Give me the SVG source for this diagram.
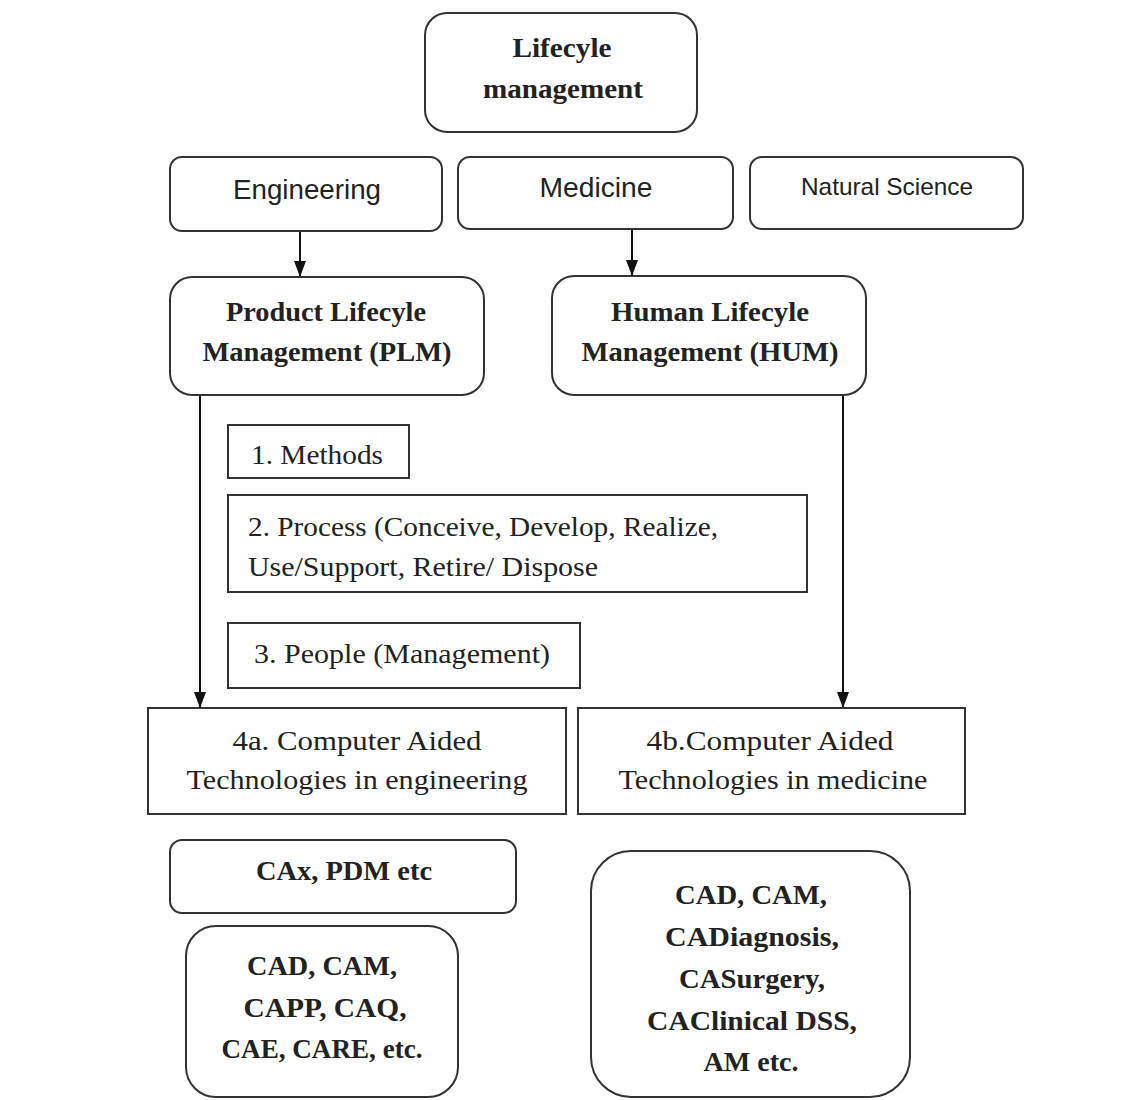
<svg xmlns="http://www.w3.org/2000/svg" width="1145" height="1100" viewBox="0 0 1145 1100">
<style>
.box{fill:#fff;stroke:#333;stroke-width:2}
.b{font-family:"Liberation Serif",serif;font-weight:bold;font-size:28px;fill:#222;text-anchor:middle}
.r{font-family:"Liberation Serif",serif;font-size:28px;fill:#222}
.s{font-family:"Liberation Sans",sans-serif;font-size:27px;fill:#222;text-anchor:middle}
.c{fill:none;stroke:#111;stroke-width:2}
</style>
<defs>
<marker id="arr" markerWidth="16" markerHeight="12" refX="16" refY="6" orient="auto" markerUnits="userSpaceOnUse" viewBox="0 0 16 12">
<path d="M0,0 L16,6 L0,12 Z" fill="#111"/>
</marker>
</defs>
<rect width="1145" height="1100" fill="#fff"/>
<g id="connectors">
<line class="c" x1="300" y1="231" x2="300" y2="277" marker-end="url(#arr)"/>
<line class="c" x1="632" y1="229" x2="632" y2="276" marker-end="url(#arr)"/>
<line class="c" x1="200" y1="395" x2="200" y2="708" marker-end="url(#arr)"/>
<line class="c" x1="843" y1="395" x2="843" y2="708" marker-end="url(#arr)"/>
</g>
<g id="lifecycle">
<rect class="box" x="425" y="13" width="272" height="119" rx="22"/>
<text class="b" x="562" y="57" textLength="99" lengthAdjust="spacingAndGlyphs">Lifecyle</text>
<text class="b" x="563" y="98" textLength="160" lengthAdjust="spacingAndGlyphs">management</text>
</g>
<g id="engineering">
<rect class="box" x="170" y="157" width="272" height="74" rx="12"/>
<text class="s" x="307" y="199" textLength="148" lengthAdjust="spacingAndGlyphs">Engineering</text>
</g>
<g id="medicine">
<rect class="box" x="458" y="157" width="275" height="72" rx="12"/>
<text class="s" x="596" y="197" textLength="113" lengthAdjust="spacingAndGlyphs">Medicine</text>
</g>
<g id="natural">
<rect class="box" x="750" y="157" width="273" height="72" rx="12"/>
<text class="s" x="887" y="195" style="font-size:24px" textLength="172" lengthAdjust="spacingAndGlyphs">Natural Science</text>
</g>
<g id="plm">
<rect class="box" x="170" y="277" width="314" height="118" rx="22"/>
<text class="b" x="326" y="321" textLength="200" lengthAdjust="spacingAndGlyphs">Product Lifecyle</text>
<text class="b" x="327" y="361" textLength="249" lengthAdjust="spacingAndGlyphs">Management (PLM)</text>
</g>
<g id="hum">
<rect class="box" x="552" y="276" width="314" height="119" rx="22"/>
<text class="b" x="710" y="321" textLength="198" lengthAdjust="spacingAndGlyphs">Human Lifecyle</text>
<text class="b" x="710" y="361" textLength="257" lengthAdjust="spacingAndGlyphs">Management (HUM)</text>
</g>
<g id="methods">
<rect class="box" x="228" y="425" width="181" height="53"/>
<text class="r" x="251" y="464" textLength="132" lengthAdjust="spacingAndGlyphs">1. Methods</text>
</g>
<g id="process">
<rect class="box" x="228" y="495" width="579" height="97"/>
<text class="r" x="248" y="536" textLength="470" lengthAdjust="spacingAndGlyphs">2. Process (Conceive, Develop, Realize,</text>
<text class="r" x="248" y="576" textLength="350" lengthAdjust="spacingAndGlyphs">Use/Support, Retire/ Dispose</text>
</g>
<g id="people">
<rect class="box" x="228" y="623" width="352" height="65"/>
<text class="r" x="254" y="663" textLength="296" lengthAdjust="spacingAndGlyphs">3. People (Management)</text>
</g>
<g id="cat-eng">
<rect class="box" x="148" y="708" width="418" height="106"/>
<text class="r" x="357" y="750" text-anchor="middle" textLength="249" lengthAdjust="spacingAndGlyphs">4a. Computer Aided</text>
<text class="r" x="357" y="789" text-anchor="middle" textLength="341" lengthAdjust="spacingAndGlyphs">Technologies in engineering</text>
</g>
<g id="cat-med">
<rect class="box" x="578" y="708" width="387" height="106"/>
<text class="r" x="770" y="750" text-anchor="middle" textLength="247" lengthAdjust="spacingAndGlyphs">4b.Computer Aided</text>
<text class="r" x="773" y="789" text-anchor="middle" textLength="309" lengthAdjust="spacingAndGlyphs">Technologies in medicine</text>
</g>
<g id="cax">
<rect class="box" x="170" y="840" width="346" height="73" rx="12"/>
<text class="b" x="344" y="880" textLength="176" lengthAdjust="spacingAndGlyphs">CAx, PDM etc</text>
</g>
<g id="cad-eng">
<rect class="box" x="186" y="926" width="272" height="171" rx="30"/>
<text class="b" x="322" y="975" textLength="150" lengthAdjust="spacingAndGlyphs">CAD, CAM,</text>
<text class="b" x="325" y="1017" textLength="163" lengthAdjust="spacingAndGlyphs">CAPP, CAQ,</text>
<text class="b" x="322" y="1058" textLength="201" lengthAdjust="spacingAndGlyphs">CAE, CARE, etc.</text>
</g>
<g id="cad-med">
<rect class="box" x="591" y="851" width="319" height="246" rx="40"/>
<text class="b" x="751" y="904" textLength="152" lengthAdjust="spacingAndGlyphs">CAD, CAM,</text>
<text class="b" x="752" y="946" textLength="174" lengthAdjust="spacingAndGlyphs">CADiagnosis,</text>
<text class="b" x="752" y="988" textLength="146" lengthAdjust="spacingAndGlyphs">CASurgery,</text>
<text class="b" x="752" y="1030" textLength="210" lengthAdjust="spacingAndGlyphs">CAClinical DSS,</text>
<text class="b" x="751" y="1071" textLength="95" lengthAdjust="spacingAndGlyphs">AM etc.</text>
</g>
</svg>
